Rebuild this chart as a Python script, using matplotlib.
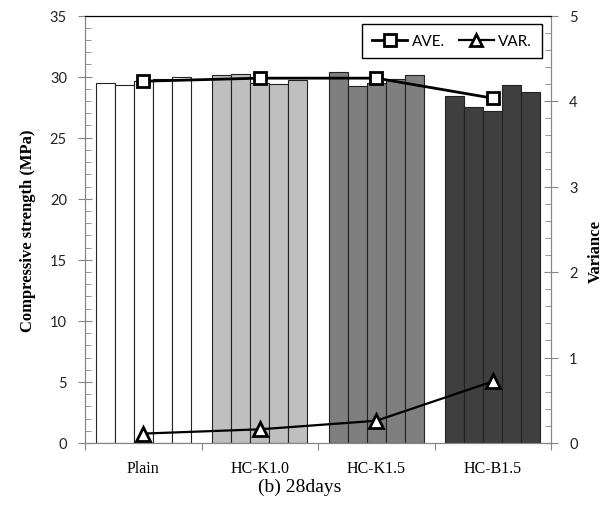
import matplotlib
matplotlib.use('Agg')
import matplotlib.pyplot as plt
import numpy as np
from matplotlib.ticker import MultipleLocator

# datos
grupos = ['Plain', 'HC-K1.0', 'HC-K1.5', 'HC-B1.5']
cores = ['#ffffff', '#bfbfbf', '#7f7f7f', '#3f3f3f']
resist = [
    [29.5, 29.3, 29.6, 29.8, 30.0],
    [30.1, 30.2, 29.5, 29.4, 29.7],
    [30.4, 29.2, 29.5, 29.8, 30.1],
    [28.4, 27.5, 27.2, 29.3, 28.7],
]
media = [29.62, 29.87, 29.87, 28.23]
variancia = [0.11, 0.16, 0.26, 0.72]

serif = 'Liberation Serif'
sans = 'Lato'
cinza = '#868686'

fig = plt.figure(figsize=(6.03, 5.10), dpi=100)
ax = fig.add_axes([85/603, 1-444/510, 466/603, 427.5/510])
ax2 = ax.twinx()

w = 19/116.5
x = np.arange(len(grupos))
for i in range(len(grupos)):
    for j in range(5):
        ax.bar(x[i] + (j-2)*w, resist[i][j], width=w, color=cores[i],
               edgecolor='#222222', linewidth=0.8, zorder=2)

l1, = ax.plot(x, media, color='black', lw=2, marker='s', ms=9,
              mfc='white', mec='black', mew=2, zorder=5)
l2, = ax2.plot(x, variancia, color='black', lw=1.6, marker='^', ms=10,
               mfc='white', mec='black', mew=2, zorder=5)

ax.set_xlim(-0.5, 3.5)
ax.set_ylim(0, 35)
ax2.set_ylim(0, 5)

ax.yaxis.set_major_locator(MultipleLocator(5))
ax.yaxis.set_minor_locator(MultipleLocator(1))
ax2.yaxis.set_major_locator(MultipleLocator(1))
ax2.yaxis.set_minor_locator(MultipleLocator(0.2))

ax.set_xticks([-0.5, 0.5, 1.5, 2.5, 3.5])
ax.set_xticklabels([])
ax.set_xticks(x, minor=True)
ax.set_xticklabels(grupos, minor=True, fontfamily=serif, fontsize=11.5)
ax.tick_params(axis='x', which='major', direction='out', length=5, color=cinza)
ax.tick_params(axis='x', which='minor', length=0, pad=12)

ax.tick_params(axis='y', which='major', direction='inout', length=10, color=cinza,
               labelsize=10.5, pad=8)
ax.tick_params(axis='y', which='minor', direction='in', length=4, color=cinza)
ax2.tick_params(axis='y', which='major', direction='inout', length=10, color=cinza,
                labelsize=10.5, pad=8)
ax2.tick_params(axis='y', which='minor', direction='in', length=4, color=cinza)
for lab in ax.get_yticklabels() + ax2.get_yticklabels():
    lab.set_fontfamily(sans)
    lab.set_color('#222222')

for a in (ax, ax2):
    for s in ['left', 'right', 'bottom']:
        a.spines[s].set_color(cinza)
    a.spines['top'].set_color('black')

ax.set_ylabel('Compressive strength (MPa)', fontfamily=serif, fontweight='bold',
              fontsize=12)
ax.yaxis.set_label_coords(-0.105, 0.5)
ax2.set_ylabel('Variance', fontfamily=serif, fontweight='bold', fontsize=12)
ax2.yaxis.set_label_coords(1.078, 0.45)

leg = ax2.legend([l1, l2], ['AVE.', 'VAR.'], loc='upper right',
                 bbox_to_anchor=(0.981, 0.980), borderaxespad=0, ncol=2,
                 prop={'family': sans, 'size': 11}, handlelength=2.3,
                 columnspacing=0.9, handletextpad=0.3, fancybox=False,
                 edgecolor='black', framealpha=1, borderpad=0.65)
leg.get_frame().set_linewidth(1.0)
for h in leg.legend_handles:
    h.set_markersize(8)

fig.text(300/603, 1-487/510, '(b) 28days', fontfamily=serif, fontsize=14,
         ha='center', va='center')

fig.savefig('out.png', dpi=100)
